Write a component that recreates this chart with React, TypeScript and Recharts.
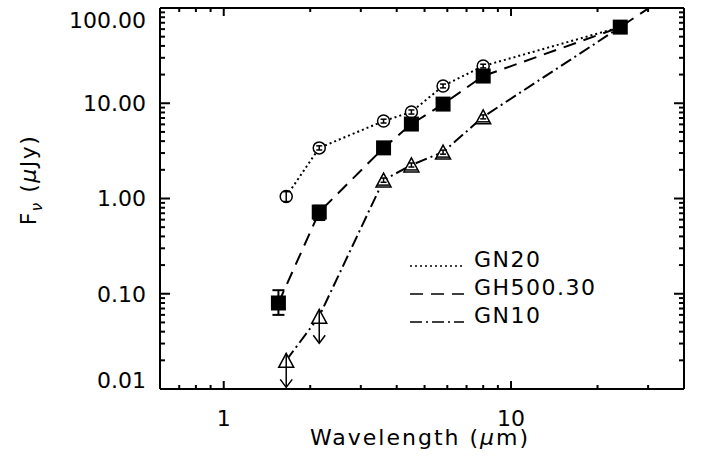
import React from 'react';
import { ComposedChart, Line, XAxis, YAxis, ErrorBar, Legend } from 'recharts';

// wavelengths (micron) and flux densities (microJy)
const gn20Wave = [1.65, 2.15, 3.6, 4.5, 5.8, 8.0, 24];
const gn20Flux = [1.05, 3.4, 6.5, 8.1, 15.2, 24.6, 63];
const gn20Lo = [0.12, 0.17, 0.3, 0.4, 0.7, 1.1, 0];
const gn20Hi = [0.13, 0.17, 0.3, 0.4, 0.7, 1.1, 0];

const gh500Wave = [1.55, 2.15, 3.6, 4.5, 5.8, 8.0, 24, 30.2];
const gh500Flux = [0.08, 0.72, 3.4, 6.05, 9.8, 19.3, 63, 100];
const gh500Lo = [0.02, 0.126, 0, 0, 0, 0, 0, 0];
const gh500Hi = [0.029, 0.12, 0, 0, 0, 0, 0, 0];

const gn10Wave = [1.65, 2.15, 3.6, 4.5, 5.8, 8.0, 24];
const gn10Flux = [0.02, 0.058, 1.56, 2.25, 3.07, 7.2, 63];
const gn10Lo = [0, 0, 0.08, 0.11, 0.15, 0.35, 0];
const gn10Hi = [0, 0, 0.08, 0.11, 0.15, 0.35, 0];
const gn10Limit = [true, true, false, false, false, false, false];

const xTicks = [0.7, 0.8, 0.9, 1, 2, 3, 4, 5, 6, 7, 8, 9, 10, 20, 30];
const yTicks = [0.01, 0.02, 0.03, 0.04, 0.05, 0.06, 0.07, 0.08, 0.09,
  0.1, 0.2, 0.3, 0.4, 0.5, 0.6, 0.7, 0.8, 0.9,
  1, 2, 3, 4, 5, 6, 7, 8, 9,
  10, 20, 30, 40, 50, 60, 70, 80, 90, 100];

const seriesNames = ['GN20', 'GH500.30', 'GN10'];
const dashes: Record<string, string> = { GN20: '2 3', 'GH500.30': '13 8', GN10: '12 4 2 4' };

const FONT = '"DejaVu Sans", sans-serif';

const build = (wave: number[], flux: number[], lo: number[], hi: number[], lim?: boolean[]) =>
  wave.map((x, i) => ({ x, y: flux[i], err: [lo[i], hi[i]], lim: lim ? lim[i] : false, hasErr: lo[i] > 0 || hi[i] > 0 }));

const gn20 = build(gn20Wave, gn20Flux, gn20Lo, gn20Hi);
const gh500 = build(gh500Wave, gh500Flux, gh500Lo, gh500Hi);
const gn10 = build(gn10Wave, gn10Flux, gn10Lo, gn10Hi, gn10Limit);

const isMajor = (v: number) => Math.abs(Math.log10(v) - Math.round(Math.log10(v))) < 1e-6;

function XTick(props: any) {
  const { x, y, payload, side } = props;
  const v = payload.value;
  const major = isMajor(v);
  const len = major ? 8 : 4;
  const dir = side === 'bottom' ? -1 : 1;
  return (
    <g>
      <line x1={x} y1={y} x2={x} y2={y + dir * len} stroke="#000" strokeWidth={2} />
      {side === 'bottom' && major && (
        <text x={x} y={y + 37} textAnchor="middle" fontFamily={FONT} fontSize={22} fill="#000">{v}</text>
      )}
    </g>
  );
}

function YTick(props: any) {
  const { x, y, payload, side } = props;
  const v = payload.value;
  const major = isMajor(v);
  const len = major ? 10 : 5;
  const dir = side === 'left' ? 1 : -1;
  // the end labels are pulled inside the frame, as in the original
  const shift = v === 100 ? 12 : v === 0.01 ? -9 : 0;
  return (
    <g>
      <line x1={x} y1={y} x2={x + dir * len} y2={y} stroke="#000" strokeWidth={2} />
      {side === 'left' && major && (
        <text x={x - 14} y={y + shift} dy="0.36em" textAnchor="end" fontFamily={FONT} fontSize={22} fill="#000">{v.toFixed(2)}</text>
      )}
    </g>
  );
}

function Marker(props: any) {
  const { cx, cy, payload, kind } = props;
  if (cx == null || cy == null) return <g />;
  if (payload.x > 20 && kind !== 'square') return <g />;
  if (payload.x > 25) return <g />;
  if (kind === 'circle') {
    return <circle cx={cx} cy={cy} r={6} fill="#fff" stroke="#000" strokeWidth={1.5} />;
  }
  if (kind === 'square') {
    return <rect x={cx - 7.5} y={cy - 7.5} width={15} height={15} fill="#000" />;
  }
  const tri = `M${cx},${cy - 7} L${cx + 7.5},${cy + 7} L${cx - 7.5},${cy + 7} Z`;
  if (payload.lim) {
    return (
      <g>
        <path d={tri} fill="#fff" stroke="#000" strokeWidth={1.5} />
        <line x1={cx} y1={cy - 7} x2={cx} y2={cy + 27} stroke="#000" strokeWidth={1.5} />
        <polyline points={`${cx - 6},${cy + 19} ${cx},${cy + 27} ${cx + 6},${cy + 19}`} fill="none" stroke="#000" strokeWidth={1.5} />
      </g>
    );
  }
  return (
    <g>
      <path d={tri} fill="#fff" stroke="#000" strokeWidth={1.5} />
      <line x1={cx - 6} y1={cy + 5} x2={cx + 6} y2={cy + 5} stroke="#000" strokeWidth={1.5} />
    </g>
  );
}

function LegendBox(props: any) {
  const items = seriesNames
    .map((n) => (props.payload || []).find((p: any) => p.value === n))
    .filter(Boolean);
  return (
    <svg width={230} height={95} style={{ display: 'block' }}>
      {items.map((p: any, i: number) => {
        const base = 27 + i * 28;
        return (
          <g key={p.value}>
            <line x1={2} y1={base - 1} x2={56} y2={base - 1} stroke="#000" strokeWidth={1.5} strokeDasharray={dashes[p.value]} />
            <text x={66} y={base} fontFamily={FONT} fontSize={22} letterSpacing={1.5} fill="#000">{p.value}</text>
          </g>
        );
      })}
    </svg>
  );
}

export default function App() {
  const lineProps = { xAxisId: 'b', yAxisId: 'l', dataKey: 'y', stroke: '#000', strokeWidth: 2, type: 'linear' as const, isAnimationActive: false, activeDot: false };
  const errProps = { xAxisId: 'b', yAxisId: 'l', dataKey: 'y', stroke: 'none', dot: false, activeDot: false, legendType: 'none' as const, isAnimationActive: false };
  return (
    <div style={{ position: 'absolute', left: 0, top: 0, width: 701, height: 468, background: '#fff' }}>
      <ComposedChart width={701} height={468} margin={{ top: 7, right: 16, bottom: 0, left: 0 }}>
        <XAxis xAxisId="b" dataKey="x" type="number" scale="log" domain={[0.6, 40]} allowDataOverflow
          ticks={xTicks} interval={0} tickSize={0} tickMargin={0} height={79}
          axisLine={{ stroke: '#000', strokeWidth: 2 }} tick={<XTick side="bottom" />} />
        <XAxis xAxisId="t" orientation="top" dataKey="x" type="number" scale="log" domain={[0.6, 40]} allowDataOverflow
          ticks={xTicks} interval={0} tickSize={0} tickMargin={0} height={1}
          axisLine={{ stroke: '#000', strokeWidth: 2 }} tick={<XTick side="top" />} />
        <YAxis yAxisId="l" type="number" scale="log" domain={[0.01, 100]} allowDataOverflow
          ticks={yTicks} interval={0} tickSize={0} tickMargin={0} width={160}
          axisLine={{ stroke: '#000', strokeWidth: 2 }} tick={<YTick side="left" />} />
        <YAxis yAxisId="r" orientation="right" type="number" scale="log" domain={[0.01, 100]} allowDataOverflow
          ticks={yTicks} interval={0} tickSize={0} tickMargin={0} width={1}
          axisLine={{ stroke: '#000', strokeWidth: 2 }} tick={<YTick side="right" />} />
        <Legend layout="horizontal" verticalAlign="middle" align="center" content={<LegendBox />}
          wrapperStyle={{ left: 408, top: 240, width: 230 }} />

        <Line {...lineProps} data={gn20} name="GN20" strokeDasharray={dashes.GN20} dot={<Marker kind="circle" />} />
        <Line {...lineProps} data={gh500} name="GH500.30" strokeDasharray={dashes['GH500.30']} dot={<Marker kind="square" />} />
        <Line {...lineProps} data={gn10} name="GN10" strokeDasharray={dashes.GN10} dot={<Marker kind="triangle" />} />

        <Line {...errProps} data={gn20.filter((d) => d.hasErr)} name="gn20-err">
          <ErrorBar dataKey="err" direction="y" width={3} stroke="#000" strokeWidth={1.5} {...({ zIndex: 2000 } as any)} />
        </Line>
        <Line {...errProps} data={gh500.filter((d) => d.hasErr)} name="gh500-err">
          <ErrorBar dataKey="err" direction="y" width={6} stroke="#000" strokeWidth={2} {...({ zIndex: 2000 } as any)} />
        </Line>
        <Line {...errProps} data={gn10.filter((d) => d.hasErr)} name="gn10-err">
          <ErrorBar dataKey="err" direction="y" width={3} stroke="#000" strokeWidth={1.5} {...({ zIndex: 2000 } as any)} />
        </Line>
      </ComposedChart>
      <svg style={{ position: 'absolute', left: 0, top: 0, pointerEvents: 'none' }} width={701} height={468}>
        <text transform="translate(36,180) rotate(-90)" textAnchor="middle" fontFamily={FONT} fontSize={22} letterSpacing={1.5} fill="#000">
          F<tspan dy={6} fontSize={15} fontStyle="italic">ν</tspan><tspan dy={-6}> (</tspan><tspan fontStyle="italic">μ</tspan>Jy)
        </text>
        <text x={420} y={445} textAnchor="middle" fontFamily={FONT} fontSize={22} letterSpacing={2} fill="#000">
          Wavelength (<tspan fontStyle="italic">μ</tspan>m)
        </text>
      </svg>
    </div>
  );
}
